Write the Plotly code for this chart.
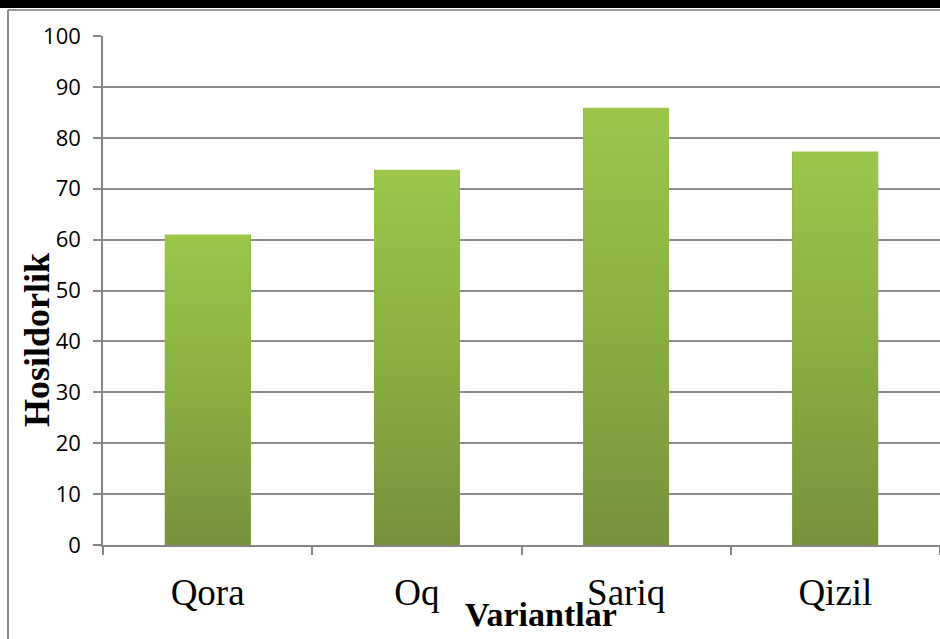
import plotly.graph_objects as go

categories = ["Qora", "Oq", "Sariq", "Qizil"]
values = [61.0, 73.7, 85.9, 77.3]
y_ticks = [0, 10, 20, 30, 40, 50, 60, 70, 80, 90, 100]

BAR_W = 0.41
TOP_C = "#9CC64A"
MID_C = "#8DB143"
BOT_C = "#76923C"
SERIF = "Liberation Serif, Times New Roman, serif"

fig = go.Figure()
xs = list(range(len(categories)))

# base bars (geometry from data through the axes)
fig.add_trace(go.Bar(x=xs, y=values, width=BAR_W, marker=dict(color=MID_C, line=dict(width=0)),
                     showlegend=False, hoverinfo="skip"))

# vertical gradient overlay per bar, derived from the same data
for i, v in enumerate(values):
    x0, x1 = i - BAR_W / 2, i + BAR_W / 2
    fig.add_trace(go.Scatter(
        x=[x0, x1, x1, x0, x0], y=[0, 0, v, v, 0], mode="lines", fill="toself",
        line=dict(width=0),
        fillgradient=dict(type="vertical", colorscale=[[0, BOT_C], [0.55, MID_C], [1, TOP_C]]),
        showlegend=False, hoverinfo="skip"))

PH = 509.0  # plot height in px
PW = 837.0  # plot width in px


def py(p):
    return (545 - p) / PH


def px(p):
    return (p - 103) / PW


fig.update_layout(
    width=940, height=639,
    margin=dict(l=103, r=0, t=36, b=94),
    paper_bgcolor="white", plot_bgcolor="white",
    bargap=0,
    xaxis=dict(range=[-0.5, 3.5], tickvals=xs, ticktext=categories, ticks="",
               tickfont=dict(family=SERIF, size=37, color="black"),
               showgrid=False, showline=True, linecolor="#868686", linewidth=1.5,
               zeroline=False, ticklabelstandoff=14,
               minor=dict(tickvals=[-0.5, 0.5, 1.5, 2.5, 3.5], ticks="outside", ticklen=8,
                          tickcolor="#868686", tickwidth=1.5, showgrid=False)),
    yaxis=dict(range=[0, 100], tickvals=y_ticks, ticks="outside", ticklen=8, tickcolor="#868686",
               tickwidth=1.5,
               tickfont=dict(family="Open Sans, Liberation Sans, sans-serif", size=22, color="black"),
               showgrid=True, gridcolor="#8A8A8A", gridwidth=1.5,
               showline=True, linecolor="#868686", linewidth=1.5, zeroline=False,
               ticklabelstandoff=8),
    annotations=[
        dict(text="<b>Hosildorlik</b>", xref="paper", yref="paper", x=px(37), y=py(340),
             textangle=-90, showarrow=False, xanchor="center", yanchor="middle",
             font=dict(family=SERIF, size=36, color="black")),
        dict(text="<b>Variantlar</b>", xref="paper", yref="paper", x=px(541),
             y=py(614), showarrow=False, xanchor="center", yanchor="middle",
             font=dict(family=SERIF, size=34, color="black")),
    ],
    shapes=[
        dict(type="rect", xref="paper", yref="paper", x0=px(0), x1=px(945),
             y0=py(8), y1=py(-2), fillcolor="black", line=dict(width=0), layer="above"),
        dict(type="line", xref="paper", yref="paper", x0=px(8), x1=px(945),
             y0=py(10), y1=py(10), line=dict(color="#9A9A9A", width=2)),
        dict(type="line", xref="paper", yref="paper", x0=px(8), x1=px(8),
             y0=py(10), y1=py(645), line=dict(color="#8A8A8A", width=2)),
    ],
)

fig.write_html("out.html", config={"displayModeBar": False},
               post_script="document.body.style.margin='0';document.body.style.overflow='hidden';")
